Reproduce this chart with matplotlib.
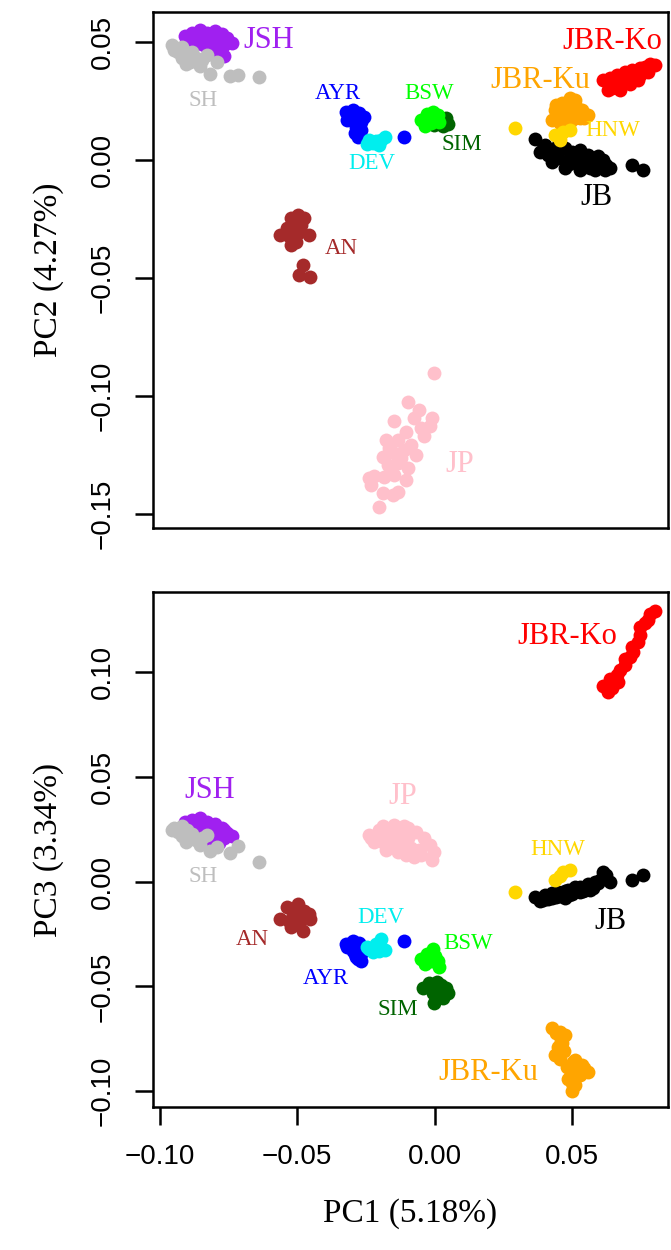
import matplotlib
matplotlib.use("Agg")
import matplotlib.pyplot as plt

# PCA scores (PC1, PC2, PC3 per animal)
jsh_pc1 = [-.0884, -.0855, -.0830, -.0801, -.0775, -.0754, -.0739, -.0768, -.0797, -.0826, -.0855, -.0884, -.0909, -.0812, -.0783, -.0768, -.0841, -.0870]
jsh_pc2 = [.0538, .0551, .0538, .0547, .0534, .0517, .0496, .0487, .0500, .0508, .0517, .0508, .0525, .0475, .0458, .0441, .0487, .0492]
jsh_pc3 = [.0292, .0302, .0283, .0274, .0255, .0231, .0217, .0208, .0222, .0236, .0255, .0264, .0283, .0189, .0184, .0245, .0208, .0226]

sh_pc1 = [-.0957, -.0949, -.0935, -.0920, -.0920, -.0902, -.0891, -.0884, -.0870, -.0855, -.0848, -.0830, -.0819, -.0793, -.0746, -.0714, -.0638, -.0906]
sh_pc2 = [.0487, .0466, .0458, .0479, .0432, .0445, .0415, .0458, .0432, .0398, .0424, .0445, .0364, .0415, .0356, .0360, .0352, .0407]
sh_pc3 = [.0245, .0255, .0236, .0264, .0217, .0245, .0208, .0226, .0198, .0175, .0208, .0222, .0146, .0165, .0137, .0170, .0094, .0189]

an_pc1 = [-.0522, -.0496, -.0475, -.0486, -.0511, -.0536, -.0562, -.0529, -.0496, -.0457, -.0504, -.0522, -.0478, -.0493, -.0453]
an_pc2 = [-.0246, -.0233, -.0246, -.0275, -.0288, -.0288, -.0318, -.0322, -.0309, -.0318, -.0347, -.0360, -.0445, -.0487, -.0496]
an_pc3 = [-.0132, -.0108, -.0142, -.0170, -.0151, -.0123, -.0179, -.0189, -.0203, -.0156, -.0170, -.0217, -.0236, -.0208, -.0179]

ayr_pc1 = [-.0322, -.0297, -.0275, -.0257, -.0268, -.0297, -.0319, -.0286, -.0268, -.0290, -.0279, -.0112]
ayr_pc2 = [.0203, .0212, .0199, .0182, .0161, .0169, .0169, .0140, .0127, .0114, .0097, .0097]
ayr_pc3 = [-.0297, -.0283, -.0292, -.0321, -.0344, -.0330, -.0311, -.0358, -.0377, -.0344, -.0368, -.0283]

dev_pc1 = [-.0239, -.0225, -.0214, -.0203, -.0196, -.0181, -.0246]
dev_pc2 = [.0085, .0072, .0081, .0064, .0085, .0097, .0068]
dev_pc3 = [-.0321, -.0335, -.0297, -.0330, -.0274, -.0325, -.0311]

sim_pc1 = [-.0043, -.0022, -.0007, .0007, .0022, .0029, .0036, .0043, .0047, -.0004]
sim_pc2 = [.0169, .0178, .0161, .0169, .0178, .0144, .0165, .0178, .0153, .0148]
sim_pc3 = [-.0509, -.0486, -.0533, -.0481, -.0495, -.0557, -.0519, -.0509, -.0533, -.0580]

bsw_pc1 = [-.0051, -.0036, -.0029, -.0015, -.0007, .0000, .0011, .0014]
bsw_pc2 = [.0169, .0144, .0195, .0157, .0203, .0174, .0191, .0161]
bsw_pc3 = [-.0368, -.0392, -.0344, -.0377, -.0321, -.0354, -.0377, -.0406]

jbrko_pc1 = [.0612, .0630, .0638, .0645, .0663, .0667, .0674, .0692, .0692, .0710, .0717, .0721, .0739, .0746, .0746, .0764, .0775, .0783, .0801]
jbrko_pc2 = [.0339, .0297, .0347, .0305, .0360, .0318, .0297, .0373, .0339, .0322, .0381, .0356, .0339, .0390, .0360, .0394, .0373, .0407, .0403]
jbrko_pc3 = [.0934, .0906, .0967, .0925, .0986, .0953, .1009, .1061, .1033, .1071, .1118, .1094, .1142, .1217, .1179, .1236, .1250, .1278, .1292]

jbrku_pc1 = [.0427, .0438, .0449, .0456, .0464, .0475, .0482, .0493, .0493, .0500, .0511, .0511, .0529, .0536, .0558, .0442,
             .0460, .0470, .0505, .0520, .0485, .0500, .0455, .0545]
jbrku_pc2 = [.0169, .0212, .0182, .0157, .0242, .0199, .0220, .0263, .0161, .0191, .0237, .0254, .0178, .0212, .0191, .0233,
             .0225, .0205, .0175, .0205, .0185, .0230, .0195, .0180]
jbrku_pc3 = [-.0698, -.0830, -.0792, -.0849, -.0769, -.0731, -.0887, -.0934, -.0896, -.1000, -.0972, -.0854, -.0925, -.0877, -.0910, -.0722,
             -.0760, -.0810, -.0860, -.0900, -.0940, -.0960, -.0720, -.0890]

jb_pc1 = [.0366, .0384, .0402, .0413, .0427, .0427, .0449, .0449, .0475, .0475, .0485, .0500, .0511, .0529, .0529, .0547, .0558, .0565, .0583, .0583, .0601, .0612, .0620, .0638, .0717, .0757,
          .0395, .0440, .0490, .0540, .0575, .0595, .0625, .0460]
jb_pc2 = [.0089, .0034, .0064, .0021, .0042, -.0008, .0064, .0008, .0051, -.0034, .0000, .0034, -.0008, .0042, -.0042, -.0021, .0021, -.0034, .0000, -.0042, -.0021, .0000, -.0042, -.0034, -.0021, -.0042,
          .0045, .0020, -.0015, .0010, -.0010, .0015, -.0020, .0055]
jb_pc3 = [-.0075, -.0094, -.0066, -.0085, -.0057, -.0080, -.0052, -.0071, -.0047, -.0080, -.0038, -.0061, -.0028, -.0052, -.0024, -.0042, -.0014, -.0038, .0000, -.0014, .0009, .0047, .0024, .0000, .0009, .0033,
          -.0090, -.0075, -.0065, -.0045, -.0030, -.0005, .0030, -.0070]

hnw_pc1 = [.0293, .0438, .0456, .0467, .0493]
hnw_pc2 = [.0136, .0106, .0085, .0119, .0127]
hnw_pc3 = [-.0052, .0009, .0028, .0047, .0057]

jp_pc1 = [-.0004, -.0098, -.0058, -.0149, -.0076, -.0018, -.0040, -.0105, -.0178, -.0134, -.0087, -.0188, -.0149, -.0112, -.0069, -.0170,
          -.0134, -.0098, -.0221, -.0185, -.0149, -.0105, -.0188, -.0152, -.0134, -.0203, -.0167, -.0123, -.0232, -.0051, -.0011, -.0239]
jp_pc2 = [-.0903, -.1025, -.1059, -.1106, -.1093, -.1127, -.1169, -.1153, -.1186, -.1186, -.1208, -.1258, -.1242, -.1229, -.1250, -.1292,
          -.1284, -.1305, -.1339, -.1343, -.1335, -.1356, -.1411, -.1419, -.1407, -.1470, -.1220, -.1263, -.1377, -.1136, -.1093, -.1347]
jp_pc3 = [.0142, .0255, .0151, .0269, .0118, .0175, .0208, .0127, .0151, .0222, .0160, .0264, .0175, .0264, .0236, .0222,
          .0142, .0208, .0189, .0184, .0208, .0175, .0217, .0245, .0175, .0245, .0198, .0245, .0208, .0127, .0104, .0222]

groups = ["JSH", "SH", "AN", "AYR", "DEV", "SIM", "BSW", "JBR-Ko", "JBR-Ku", "JB", "HNW", "JP"]
pc1 = [jsh_pc1, sh_pc1, an_pc1, ayr_pc1, dev_pc1, sim_pc1, bsw_pc1, jbrko_pc1, jbrku_pc1, jb_pc1, hnw_pc1, jp_pc1]
pc2 = [jsh_pc2, sh_pc2, an_pc2, ayr_pc2, dev_pc2, sim_pc2, bsw_pc2, jbrko_pc2, jbrku_pc2, jb_pc2, hnw_pc2, jp_pc2]
pc3 = [jsh_pc3, sh_pc3, an_pc3, ayr_pc3, dev_pc3, sim_pc3, bsw_pc3, jbrko_pc3, jbrku_pc3, jb_pc3, hnw_pc3, jp_pc3]
colors = ["#A020F0", "#BEBEBE", "#A52A2A", "#0000FF", "#00EEEE", "#006400", "#00FF00",
          "#FF0000", "#FFA500", "#000000", "#FFD700", "#FFC0CB"]
big = ["JSH", "JBR-Ko", "JBR-Ku", "JB", "JP"]

# label anchors (centre of text) for each panel
lab_top = {"JSH": (-0.0605, 0.0508), "SH": (-0.0841, 0.0250), "AYR": (-0.0351, 0.0280), "DEV": (-0.0228, -0.0013),
           "BSW": (-0.0022, 0.0280), "SIM": (0.0098, 0.0064), "AN": (-0.0341, -0.0377), "JBR-Ko": (0.0648, 0.0504),
           "JBR-Ku": (0.0384, 0.0335), "HNW": (0.0648, 0.0123), "JB": (0.0590, -0.0157), "JP": (0.0091, -0.1292)}
lab_bot = {"JSH": (-0.0819, 0.0434), "SH": (-0.0841, 0.0024), "JP": (-0.0116, 0.0406), "AN": (-0.0663, -0.0278),
           "DEV": (-0.0196, -0.0170), "AYR": (-0.0395, -0.0462), "BSW": (0.0120, -0.0297), "SIM": (-0.0134, -0.0613),
           "JBR-Ko": (0.0482, 0.1170), "HNW": (0.0449, 0.0151), "JB": (0.0638, -0.0193), "JBR-Ku": (0.0196, -0.0910)}

serif = ["Liberation Serif", "DejaVu Serif"]
sans = ["Liberation Sans", "DejaVu Sans"]

fig = plt.figure(figsize=(6.71, 12.5), dpi=100)
ax1 = fig.add_axes([0.228, 0.5776, 0.7675, 0.4128])
ax2 = fig.add_axes([0.228, 0.1144, 0.7675, 0.4120])

for ax, ys, labs in [(ax1, pc2, lab_top), (ax2, pc3, lab_bot)]:
    for g, x, y, c in zip(groups, pc1, ys, colors):
        ax.scatter(x, y, s=100, color=c, linewidths=0, zorder=3)
        tx, ty = labs[g]
        ax.text(tx, ty, g, color=c, family=serif, fontsize=22 if g in big else 16.5,
                ha="center", va="center")
    ax.set_xlim(-0.1025, 0.0849)
    for sp in ax.spines.values():
        sp.set_linewidth(1.8)
    ax.tick_params(axis="both", direction="out", length=13, width=1.8, labelsize=20, pad=14)

ax1.set_ylim(-0.1559, 0.0627)
ax1.set_yticks([0.05, 0.00, -0.05, -0.10, -0.15])
ax1.set_yticklabels(["0.05", "0.00", "\u22120.05", "\u22120.10", "\u22120.15"], rotation=90, va="center", family=sans)
ax1.set_xticks([])
ax1.set_ylabel("PC2 (4.27%)", family=serif, fontsize=24, labelpad=18)

ax2.set_ylim(-0.1076, 0.1382)
ax2.set_yticks([0.10, 0.05, 0.00, -0.05, -0.10])
ax2.set_yticklabels(["0.10", "0.05", "0.00", "\u22120.05", "\u22120.10"], rotation=90, va="center", family=sans)
ax2.set_xticks([-0.10, -0.05, 0.00, 0.05])
ax2.set_xticklabels(["\u22120.10", "\u22120.05", "0.00", "0.05"], family=sans)
ax2.set_ylabel("PC3 (3.34%)", family=serif, fontsize=24, labelpad=18)
ax2.set_xlabel("PC1 (5.18%)", family=serif, fontsize=24, labelpad=20)

fig.savefig("out.png", dpi=100)
